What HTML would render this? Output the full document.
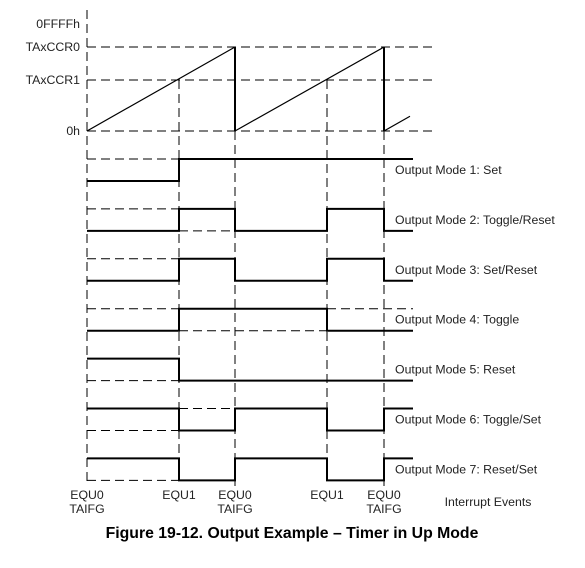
<!DOCTYPE html>
<html><head><meta charset="utf-8"><style>
body{margin:0;background:#fff;}
svg text{font-family:"Liberation Sans",Arial,sans-serif;fill:#222;}
</style></head><body>
<svg width="585" height="563" viewBox="0 0 585 563">
<g id="grid" stroke="#000" stroke-width="1" stroke-dasharray="9,5" fill="none"></g>
<g id="marks" stroke="#000" fill="none"></g>
<g id="labels" font-size="12.3"></g>
<text x="292" y="538" text-anchor="middle" font-size="15.8" font-weight="bold" style="fill:#000">Figure 19-12. Output Example – Timer in Up Mode</text>
</svg>
<script>
const eventX=[87,179,235,327,384];
const eventTop=[10,80,47,80,47];
const eventNames=["EQU0","EQU1","EQU0","EQU1","EQU0"];
const eventSub=["TAIFG","","TAIFG","","TAIFG"];
const levelNames=["0FFFFh","TAxCCR0","TAxCCR1","0h"];
const levelY=[24,47,80,131];
const modeNames=["Output Mode 1: Set","Output Mode 2: Toggle/Reset","Output Mode 3: Set/Reset","Output Mode 4: Toggle","Output Mode 5: Reset","Output Mode 6: Toggle/Set","Output Mode 7: Reset/Set"];
const modeStates=[
[0,1,1,1,1],
[0,1,0,1,0],
[0,1,0,1,0],
[0,1,1,0,0],
[1,0,0,0,0],
[1,0,1,0,1],
[1,0,1,0,1]];
// dashed guide segments per mode: [startEventIdx, endEventIdx(5=end), level]
const modeGuides=[
[[0,1,1]],
[[0,1,1],[1,2,0]],
[[0,1,1]],
[[0,1,1],[1,3,0],[3,5,1]],
[[0,1,0]],
[[0,1,0],[1,2,1]],
[[0,1,0]]];
const NS="http://www.w3.org/2000/svg";
const grid=document.getElementById('grid'),marks=document.getElementById('marks'),labels=document.getElementById('labels');
function mk(p,tag,a){const e=document.createElementNS(NS,tag);for(const k in a)e.setAttribute(k,a[k]);p.appendChild(e);return e;}
const endX=413;
function rowHigh(i){return 159+i*49.9;}
eventX.forEach((x,i)=>{
 const l=mk(grid,'line',{x1:x,y1:eventTop[i],x2:x,y2:486});
 
 
 const t=mk(labels,'text',{x:x,y:499,'text-anchor':'middle'});t.textContent=eventNames[i];
 
 
 if(eventSub[i]){const s=mk(labels,'text',{x:x,y:513,'text-anchor':'middle'});s.textContent=eventSub[i];
 
 }
});
const ie=mk(labels,'text',{x:488,y:506,'text-anchor':'middle'});ie.textContent="Interrupt Events";


levelNames.forEach((n,i)=>{
 const t=mk(labels,'text',{x:80,y:levelY[i]+4,'text-anchor':'end'});t.textContent=n;
 
 
 if(i>0){const l=mk(grid,'line',{x1:87,y1:levelY[i],x2:432,y2:levelY[i]});
 
 }
});
const y0=levelY[3],yc0=levelY[1];
const slope=(yc0-y0)/(eventX[2]-eventX[0]);
const ramp=mk(marks,'path',{d:`M${eventX[0]},${y0} L${eventX[2]},${yc0} M${eventX[2]},${y0} L${eventX[4]},${yc0} M${eventX[4]},${y0} L410,${y0+slope*(410-eventX[4])}`,'stroke-width':1.2});


const drops=mk(marks,'path',{d:`M${eventX[2]},${yc0} L${eventX[2]},${y0} M${eventX[4]},${yc0} L${eventX[4]},${y0}`,'stroke-width':2});


modeStates.forEach((st,m)=>{
 const hy=rowHigh(m),ly=hy+22;
 const xs=[...eventX,endX];
 modeGuides[m].forEach(g=>{mk(grid,'line',{x1:xs[g[0]],y1:g[2]?hy:ly,x2:xs[g[1]],y2:g[2]?hy:ly});});
 let p='';
 for(let k=0;k<st.length;k++){
  const y=st[k]?hy:ly;
  if(k===0)p+=`M${xs[0]},${y}`;else p+=` L${xs[k]},${y}`;
  p+=` L${xs[k+1]},${y}`;
 }
 const w=mk(marks,'path',{d:p,'stroke-width':2});
 
 
 const t=mk(labels,'text',{x:395,y:hy+15});t.textContent=modeNames[m];
 
 
});
</script>
</body></html>
